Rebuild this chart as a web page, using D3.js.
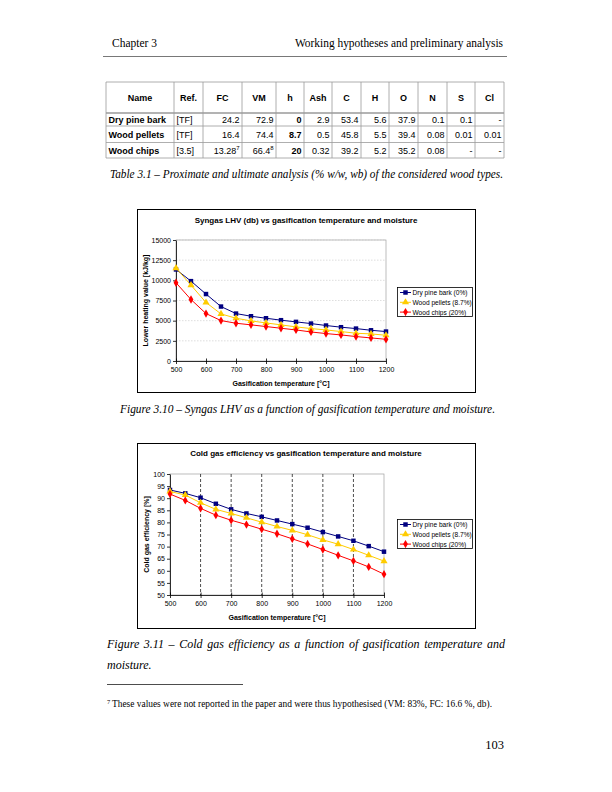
<!DOCTYPE html>
<html>
<head>
<meta charset="utf-8">
<script src="https://cdn.jsdelivr.net/npm/d3@7"></script>
<style>
  html, body { margin: 0; padding: 0; background: #fff; }
  svg { display: block; }
  .serif { font-family: "Liberation Serif", "Times New Roman", serif; fill: #000; }
  .sans { font-family: "Liberation Sans", Arial, sans-serif; fill: #000; }
</style>
</head>
<body>
<svg id="page" width="612" height="792"></svg>
<script>
// ---- table data -------------------------------------------------------------
const TABLE_COLS = ["Name", "Ref.", "FC", "VM", "h", "Ash", "C", "H", "O", "N", "S", "Cl"];
const TABLE_ROWS = [
  ["Dry pine bark", "[TF]", "24.2", "72.9", "0", "2.9", "53.4", "5.6", "37.9", "0.1", "0.1", "-"],
  ["Wood pellets", "[TF]", "16.4", "74.4", "8.7", "0.5", "45.8", "5.5", "39.4", "0.08", "0.01", "0.01"],
  ["Wood chips", "[3.5]", "13.28|7", "66.4|8", "20", "0.32", "39.2", "5.2", "35.2", "0.08", "-", "-"],
];

// ---- chart data -------------------------------------------------------------
const TEMPS = [500, 550, 600, 650, 700, 750, 800, 850, 900, 950, 1000, 1050, 1100, 1150, 1200];
const SERIES_NAMES = ["Dry pine bark (0%)", "Wood pellets (8.7%)", "Wood chips (20%)"];

const LHV_BARK    = [11350, 9900, 8300, 6750, 5880, 5550, 5300, 5060, 4850, 4640, 4400, 4190, 4020, 3810, 3650];
const LHV_PELLETS = [11520, 9400, 7250, 5840, 5300, 4970, 4720, 4480, 4230, 4020, 3850, 3650, 3440, 3360, 3190];
const LHV_CHIPS   = [9700, 7620, 5880, 5010, 4680, 4480, 4270, 4060, 3850, 3600, 3400, 3230, 3030, 2860, 2690];

const CGE_BARK    = [93.4, 92.0, 90.2, 87.7, 85.4, 83.7, 82.3, 80.8, 79.3, 77.8, 76.0, 74.2, 72.4, 70.2, 67.9];
const CGE_PELLETS = [92.8, 91.3, 88.1, 85.4, 83.7, 81.9, 80.1, 78.3, 76.7, 74.9, 72.8, 71.0, 68.8, 66.4, 64.0];
const CGE_CHIPS   = [91.7, 89.1, 85.8, 83.0, 80.9, 79.1, 77.2, 75.3, 73.2, 71.1, 68.8, 66.4, 64.1, 61.6, 58.6];

const X_TICKS = [500, 600, 700, 800, 900, 1000, 1100, 1200];
const LHV_TICKS = [0, 2500, 5000, 7500, 10000, 12500, 15000];
const CGE_TICKS = [50, 55, 60, 65, 70, 75, 80, 85, 90, 95, 100];

const COLORS = ["#000080", "#ffcc00", "#ff0000"];
const SYMBOLS = [d3.symbolSquare, d3.symbolTriangle, d3.symbolDiamond];

const svg = d3.select("#page");

// serif line squeezed/stretched to the width it takes on the printed page
function serifLine(x0, x1, y, size, text, italic) {
  return svg.append("text").attr("class", "serif").attr("x", x0).attr("y", y)
    .attr("font-size", size).attr("font-style", italic ? "italic" : "normal")
    .attr("textLength", x1 - x0).attr("lengthAdjust", "spacingAndGlyphs")
    .text(text);
}

// ---- page header --------------------------------------------------------------
serifLine(112, 157, 47, 12, "Chapter 3");
serifLine(295, 503, 47, 12, "Working hypotheses and preliminary analysis");
svg.append("line").attr("x1", 103).attr("x2", 507).attr("y1", 56.5).attr("y2", 56.5)
  .attr("stroke", "#555").attr("stroke-width", 0.8);

// ---- table -------------------------------------------------------------------
const colEdges = [106, 174, 203, 242, 276, 304, 332, 361, 389, 418, 447, 475, 504];
const rowEdges = [82, 113, 126, 142.5, 158];
const tbl = svg.append("g");

tbl.selectAll("line.v").data(colEdges).join("line")
  .attr("x1", (d) => d).attr("x2", (d) => d)
  .attr("y1", rowEdges[0]).attr("y2", rowEdges[rowEdges.length - 1])
  .attr("stroke", "#9a9a9a").attr("stroke-width", 0.8);
tbl.selectAll("line.h").data(rowEdges).join("line")
  .attr("x1", colEdges[0]).attr("x2", colEdges[colEdges.length - 1])
  .attr("y1", (d) => d).attr("y2", (d) => d)
  .attr("stroke", "#9a9a9a").attr("stroke-width", (d, i) => (i === 1 ? 1.4 : 0.8));

TABLE_COLS.forEach((c, i) => {
  tbl.append("text").attr("class", "sans")
    .attr("x", (colEdges[i] + colEdges[i + 1]) / 2).attr("y", 100.5)
    .attr("text-anchor", "middle").attr("font-size", 9).attr("font-weight", "bold")
    .text(c);
});

TABLE_ROWS.forEach((row, r) => {
  const y = (rowEdges[r + 1] + rowEdges[r + 2]) / 2 + 3.3;
  row.forEach((cell, i) => {
    const t = tbl.append("text").attr("class", "sans").attr("y", y).attr("font-size", 9);
    if (i < 2) {
      t.attr("x", colEdges[i] + 2.5).attr("font-weight", i === 0 ? "bold" : "normal").text(cell);
    } else {
      const [val, sup] = cell.split("|");
      t.attr("x", colEdges[i + 1] - 2.5).attr("text-anchor", "end")
        .attr("font-weight", i === 4 ? "bold" : "normal");
      if (sup) {
        t.append("tspan").text(val);
        t.append("tspan").attr("dy", -4).attr("font-size", 6).text(sup);
      } else {
        t.text(val);
      }
    }
  });
});

serifLine(110, 503, 178, 12,
  "Table 3.1 – Proximate and ultimate analysis (% w/w, wb) of the considered wood types.", true);

// ---- chart drawing -------------------------------------------------------------
function drawChart(opt) {
  const g = svg.append("g");
  const f = opt.frame;
  g.append("rect").attr("x", f.x0 + 0.5).attr("y", f.y0 + 0.5)
    .attr("width", f.x1 - f.x0).attr("height", f.y1 - f.y0)
    .attr("fill", "#fff").attr("stroke", "#000").attr("stroke-width", 1);

  const x = d3.scaleLinear().domain([500, 1200]).range([opt.plot.x0, opt.plot.x1]);
  const y = d3.scaleLinear().domain(opt.yDomain).range([opt.plot.y1, opt.plot.y0]);

  // plot area border
  g.append("rect").attr("x", opt.plot.x0).attr("y", opt.plot.y0)
    .attr("width", opt.plot.x1 - opt.plot.x0).attr("height", opt.plot.y1 - opt.plot.y0)
    .attr("fill", "none").attr("stroke", "#a0a0a0").attr("stroke-width", 0.7);

  if (opt.hGrid) {
    g.append("g").selectAll("line").data(opt.yTicks.slice(1)).join("line")
      .attr("x1", opt.plot.x0).attr("x2", opt.plot.x1)
      .attr("y1", (d) => y(d)).attr("y2", (d) => y(d))
      .attr("stroke", "#c8c8c8").attr("stroke-width", 0.6).attr("stroke-dasharray", "1.5,1.5");
  }
  if (opt.vGrid) {
    g.append("g").selectAll("line").data(X_TICKS.slice(1, -1)).join("line")
      .attr("x1", (d) => x(d)).attr("x2", (d) => x(d))
      .attr("y1", opt.plot.y0).attr("y2", opt.plot.y1)
      .attr("stroke", "#000").attr("stroke-width", 0.7).attr("stroke-dasharray", "3,2");
  }

  const xAx = g.append("g").attr("transform", `translate(0,${opt.plot.y1})`)
    .call(d3.axisBottom(x).tickValues(X_TICKS).tickFormat(d3.format("d"))
      .tickSize(3).tickSizeOuter(0).tickPadding(3));
  const yAx = g.append("g").attr("transform", `translate(${opt.plot.x0},0)`)
    .call(d3.axisLeft(y).tickValues(opt.yTicks).tickFormat(d3.format("d"))
      .tickSize(3).tickSizeOuter(0).tickPadding(2));
  [xAx, yAx].forEach((a) => {
    a.selectAll("text").attr("font-family", "Liberation Sans, Arial, sans-serif")
      .attr("font-size", 7).attr("fill", "#000");
    a.selectAll("line, path").attr("stroke", "#000").attr("stroke-width", 0.8);
  });
  xAx.selectAll(".tick line").attr("y1", -2.5);

  const line = d3.line().x((d, i) => x(TEMPS[i])).y((d) => y(d));
  opt.series.forEach((vals, s) => {
    g.append("path").datum(vals).attr("d", line)
      .attr("fill", "none").attr("stroke", COLORS[s]).attr("stroke-width", 1);
    g.append("g").selectAll("path").data(vals).join("path")
      .attr("transform", (d, i) => `translate(${x(TEMPS[i])},${y(d)})`)
      .attr("d", d3.symbol().type(SYMBOLS[s]).size(s === 1 ? 22 : 20))
      .attr("fill", COLORS[s]);
  });

  g.append("text").attr("class", "sans").attr("x", 306).attr("y", opt.titleY)
    .attr("text-anchor", "middle").attr("font-size", 8).attr("font-weight", "bold")
    .text(opt.title);
  g.append("text").attr("class", "sans").attr("x", (opt.plot.x0 + opt.plot.x1) / 2)
    .attr("y", opt.xLabelY).attr("text-anchor", "middle").attr("font-size", 7)
    .attr("font-weight", "bold").text("Gasification temperature [°C]");
  g.append("text").attr("class", "sans")
    .attr("transform", `translate(${opt.yLabelX},${(opt.plot.y0 + opt.plot.y1) / 2}) rotate(-90)`)
    .attr("text-anchor", "middle").attr("font-size", 7).attr("font-weight", "bold")
    .text(opt.yLabel);

  // legend
  const L = opt.legend;
  g.append("rect").attr("x", L.x0 + 0.5).attr("y", L.y0 + 0.5)
    .attr("width", L.x1 - L.x0).attr("height", L.y1 - L.y0)
    .attr("fill", "#fff").attr("stroke", "#000").attr("stroke-width", 0.8);
  SERIES_NAMES.forEach((name, s) => {
    const ly = L.y0 + 5.5 + s * 9.8;
    g.append("line").attr("x1", L.x0 + 3).attr("x2", L.x0 + 14).attr("y1", ly).attr("y2", ly)
      .attr("stroke", COLORS[s]).attr("stroke-width", 1);
    g.append("path").attr("transform", `translate(${L.x0 + 8.5},${ly})`)
      .attr("d", d3.symbol().type(SYMBOLS[s]).size(s === 1 ? 22 : 20)).attr("fill", COLORS[s]);
    g.append("text").attr("class", "sans").attr("x", L.x0 + 15.5).attr("y", ly + 2.5)
      .attr("font-size", 6.6).text(name);
  });
}

drawChart({
  frame: { x0: 137, y0: 209, x1: 475, y1: 392 },
  plot: { x0: 176, x1: 386, y0: 240, y1: 361 },
  yDomain: [0, 15000], yTicks: LHV_TICKS,
  series: [LHV_BARK, LHV_PELLETS, LHV_CHIPS],
  hGrid: true, vGrid: false,
  title: "Syngas LHV (db) vs gasification temperature and moisture", titleY: 223,
  xLabelY: 386, yLabel: "Lower heating value [kJ/kg]", yLabelX: 148,
  legend: { x0: 397, y0: 287, x1: 472, y1: 316 },
});

drawChart({
  frame: { x0: 137, y0: 443, x1: 475, y1: 628 },
  plot: { x0: 170, x1: 384, y0: 474, y1: 595 },
  yDomain: [50, 100], yTicks: CGE_TICKS,
  series: [CGE_BARK, CGE_PELLETS, CGE_CHIPS],
  hGrid: false, vGrid: true,
  title: "Cold gas efficiency vs gasification temperature and moisture", titleY: 456,
  xLabelY: 619.5, yLabel: "Cold gas efficiency [%]", yLabelX: 149,
  legend: { x0: 397, y0: 519, x1: 472, y1: 548 },
});

// ---- captions & footnote ----------------------------------------------------------
serifLine(120, 495, 413, 12,
  "Figure 3.10 – Syngas LHV as a function of gasification temperature and moisture.", true);

const cap = "Figure 3.11 – Cold gas efficiency as a function of gasification temperature and".split(" ");
const capG = svg.append("g");
cap.forEach((w) => {
  capG.append("text").attr("class", "serif").attr("y", 648).attr("font-size", 12)
    .attr("font-style", "italic").text(w);
});
// justify the first caption line across the text block
(function justify() {
  const nodes = capG.selectAll("text").nodes();
  const widths = nodes.map((n) => n.getComputedTextLength());
  const gap = (505 - 107 - d3.sum(widths)) / (nodes.length - 1);
  let cx = 107;
  nodes.forEach((n, i) => { d3.select(n).attr("x", cx); cx += widths[i] + gap; });
})();
svg.append("text").attr("class", "serif").attr("x", 107).attr("y", 669)
  .attr("font-size", 12).attr("font-style", "italic").text("moisture.");

svg.append("line").attr("x1", 107).attr("x2", 243).attr("y1", 684.5).attr("y2", 684.5)
  .attr("stroke", "#000").attr("stroke-width", 0.7);
svg.append("text").attr("class", "serif").attr("x", 107).attr("y", 703.5)
  .attr("font-size", 6.5).text("7");
serifLine(112, 492, 707, 9.5,
  "These values were not reported in the paper and were thus hypothesised (VM: 83%, FC: 16.6 %, db).");

svg.append("text").attr("class", "serif").attr("x", 504).attr("y", 749)
  .attr("text-anchor", "end").attr("font-size", 12.5).text("103");
</script>
</body>
</html>
